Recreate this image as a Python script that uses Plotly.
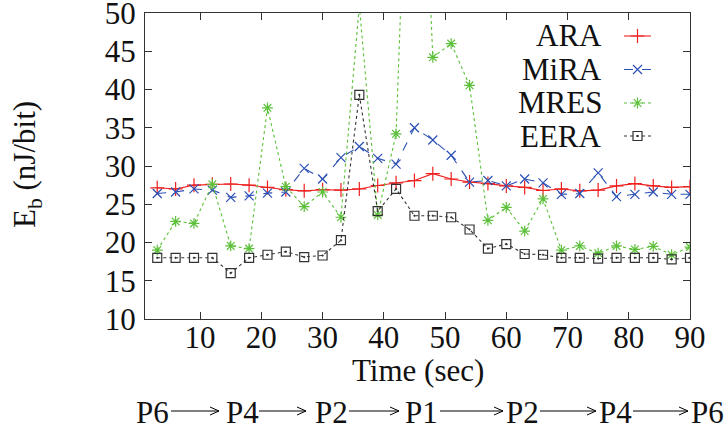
import plotly.graph_objects as go

time_s = [3, 6, 9, 12, 15, 18, 21, 24, 27, 30, 33, 36, 39, 42, 45,
          48, 51, 54, 57, 60, 63, 66, 69, 72, 75, 78, 81, 84, 87, 90]
ara = [27.15, 27.0, 27.5, 27.6, 27.65, 27.5, 27.2, 26.9, 26.75, 26.9, 26.85, 27.0, 27.45, 27.8, 28.1,
       29.0, 28.3, 27.9, 27.7, 27.4, 27.2, 26.8, 27.0, 26.75, 26.85, 27.4, 27.7, 27.4, 27.2, 27.3]
mira = [26.4, 26.6, 27.0, 26.85, 25.9, 26.1, 26.45, 26.6, 29.7, 28.3, 31.1, 32.55, 31.0, 30.25, 35.0,
        33.4, 31.4, 27.9, 28.1, 27.4, 28.3, 27.8, 26.3, 26.4, 29.1, 26.0, 26.3, 26.6, 26.3, 26.3]
mres = [19.0, 22.75, 22.5, 27.6, 19.55, 19.2, 37.6, 27.3, 24.7, 26.6, 23.3, 51.0, 23.6, 34.2, 100.0,
        44.2, 46.0, 40.55, 22.9, 24.6, 21.5, 25.7, 19.0, 19.55, 18.6, 19.55, 19.1, 19.5, 18.4, 19.4]
eera = [18.0, 18.0, 18.0, 18.0, 16.0, 18.0, 18.4, 18.8, 18.1, 18.3, 20.3, 39.3, 24.1, 27.0, 23.5,
        23.5, 23.3, 21.7, 19.2, 19.8, 18.5, 18.4, 18.0, 18.0, 17.9, 18.0, 18.0, 18.0, 17.8, 18.0]

series_names = ["ARA", "MiRA", "MRES", "EERA"]
x_ticks = [10, 20, 30, 40, 50, 60, 70, 80, 90]
y_ticks = [10, 15, 20, 25, 30, 35, 40, 45, 50]
path_labels = ["P6", "P4", "P2", "P1", "P2", "P4", "P6"]

FONT = "Liberation Serif"
FS = 31
styles = [
    dict(color="#ee2020", dash="solid", symbol="cross-thin-open", size=10),
    dict(color="#2b4fb5", dash="dash", symbol="x-thin-open", size=9),
    dict(color="#5cc03a", dash="dot", symbol="asterisk-open", size=9),
    dict(color="#333333", dash="dot", symbol="square-open-dot", size=9),
]
data = [ara, mira, mres, eera]

fig = go.Figure()
for name, ys, st in zip(series_names, data, styles):
    fig.add_trace(go.Scatter(
        x=time_s, y=ys, mode="lines+markers", name=name, showlegend=False,
        line=dict(color=st["color"], dash=st["dash"], width=1.1),
        marker=dict(symbol=st["symbol"], size=st["size"], color=st["color"],
                    line=dict(color=st["color"], width=1.2)),
    ))

W, H = 725, 430
L, R, T, B = 145, 35, 13, 111
pw, ph = W - L - R, H - T - B
def px(x): return (x - L) / pw
def py(y): return (H - B - y) / ph

rows = [36, 69.5, 103, 136]
for name, st, ry in zip(series_names, styles, rows):
    fig.add_trace(go.Scatter(
        x=[px(624), px(651)], y=[py(ry), py(ry)], xaxis="x2", yaxis="y2",
        mode="lines", showlegend=False, hoverinfo="skip",
        line=dict(color=st["color"], dash=st["dash"], width=1.1)))
    fig.add_trace(go.Scatter(
        x=[px(637.5)], y=[py(ry)], xaxis="x2", yaxis="y2",
        mode="markers", showlegend=False, hoverinfo="skip",
        marker=dict(symbol=st["symbol"], size=st["size"], color=st["color"],
                    line=dict(color=st["color"], width=1.2))))
    fig.add_annotation(text=name, xref="paper", yref="paper", x=px(604), y=py(ry),
                       xanchor="right", yanchor="middle", showarrow=False,
                       font=dict(family=FONT, size=FS))

axis_common = dict(showline=True, linecolor="#333333", linewidth=1.2, mirror="ticks",
                   ticks="inside", ticklen=7, tickcolor="#333333", tickwidth=1.2,
                   showgrid=False, zeroline=False, ticklabeloverflow="allow", automargin=False,
                   tickfont=dict(family=FONT, size=FS))

fig.update_layout(
    width=W, height=H, margin=dict(l=L, r=R, t=T, b=B),
    paper_bgcolor="white", plot_bgcolor="white",
    font=dict(family=FONT, size=FS, color="#111111"),
    xaxis=dict(range=[1, 90], tickvals=x_ticks, ticklabelstandoff=-9, **axis_common),
    yaxis=dict(range=[10, 50.0001], tickvals=y_ticks, ticklabelstandoff=2, **axis_common),
    xaxis2=dict(range=[0, 1], overlaying="x", visible=False),
    yaxis2=dict(range=[0, 1], overlaying="y", visible=False),
)

fig.add_annotation(text="Time (sec)", xref="paper", yref="paper", x=0.5, y=py(370),
                   xanchor="center", yanchor="middle", showarrow=False,
                   font=dict(family=FONT, size=FS))
fig.add_annotation(text="E<sub>b</sub> (nJ/bit)", xref="paper", yref="paper", x=px(27), y=py(165),
                   xanchor="center", yanchor="middle", showarrow=False, textangle=-90,
                   font=dict(family=FONT, size=FS))

label_left = [134, 224, 313, 403, 504, 597, 689]
arrows = [(171, 219), (259, 306), (349, 399), (440, 503), (540, 596), (633, 688)]
ay = 411
for lab, lx in zip(path_labels, label_left):
    fig.add_annotation(text=lab, xref="paper", yref="paper", x=px(lx), y=py(ay + 1),
                       xanchor="left", yanchor="middle", showarrow=False,
                       font=dict(family=FONT, size=FS))
for a0, a1 in arrows:
    for (x0, y0, x1, y1) in [(a0, ay, a1, ay), (a1 - 9, ay - 4, a1, ay), (a1 - 9, ay + 4, a1, ay)]:
        fig.add_shape(type="line", xref="paper", yref="paper",
                      x0=px(x0), y0=py(y0), x1=px(x1), y1=py(y1),
                      line=dict(color="black", width=1))

fig.write_html("out.html")
